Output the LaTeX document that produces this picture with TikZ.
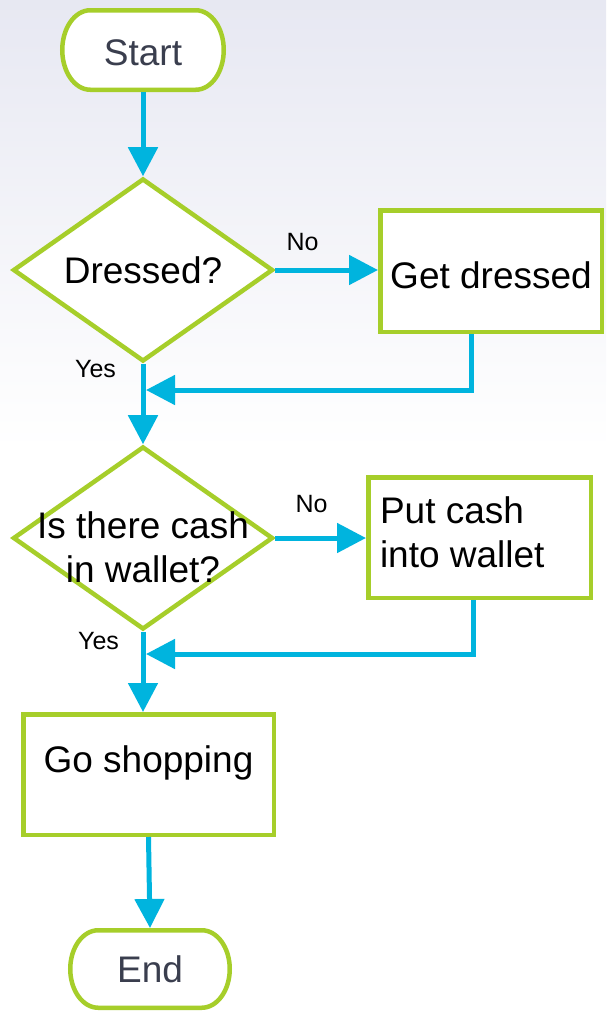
\documentclass[tikz,border=0pt]{standalone}
\usepackage{fontspec}
\setmainfont{Liberation Sans}
\usetikzlibrary{shapes.geometric,arrows.meta}
\definecolor{lgreen}{RGB}{166,206,42}
\definecolor{fblue}{RGB}{0,180,222}
\definecolor{termtext}{RGB}{58,62,78}
\definecolor{bgtop}{RGB}{231,232,242}
\pgfdeclarelayer{bg}
\pgfdeclarelayer{shapes}
\pgfsetlayers{bg,shapes,main}
\tikzset{
  mainfont/.style={font=\fontsize{37pt}{44.4pt}\selectfont},
  term/.style={mainfont, text=termtext, inner sep=0pt, outer sep=0pt},
  termline/.style={draw=lgreen, line width=4.5pt, fill=white},
  box/.style={mainfont, draw=lgreen, line width=4.5pt, fill=white, inner sep=0pt},
  dia/.style={mainfont, diamond, draw=lgreen, line width=4.5pt, fill=white, inner sep=0pt,
    minimum width=260pt, minimum height=183pt},
  arr/.style={draw=fblue, line width=5pt, -{Triangle[length=29pt,width=29pt]}},
  lbl/.style={font=\fontsize{25pt}{30pt}\selectfont, inner sep=0pt}
}
\newcommand\termoutline[3]{%
  \begin{pgfonlayer}{shapes}
    \draw[termline] ([shift={(#2+2.25pt,-2.25pt)}]#1.north west)
      -- ([shift={(-#2-2.25pt,-2.25pt)}]#1.north east)
      arc[start angle=90,end angle=-90,x radius=#2,y radius=#3]
      -- ([shift={(#2+2.25pt,2.25pt)}]#1.south west)
      arc[start angle=270,end angle=90,x radius=#2,y radius=#3] -- cycle;
  \end{pgfonlayer}}
\begin{document}
\begin{tikzpicture}[x=1pt,y=-1pt]
\useasboundingbox (0,0) rectangle (606,1012);
\begin{pgfonlayer}{bg}
  \fill[white] (0,0) rectangle (606,1012);
  \shade[top color=bgtop, bottom color=white] (0,0) rectangle (606,450);
\end{pgfonlayer}

% nodes
\node[term, minimum width=166pt, minimum height=84pt, text height=30pt, text depth=0pt] (start) at (143,50) {Start};
\termoutline{start}{28pt}{39.75pt}

\node[dia] (d1) at (143,270) {\makebox[0pt]{Dressed?}};
\node[box, minimum width=221.5pt, minimum height=121.5pt, text height=34pt, text depth=0pt] (gd) at (491,271) {Get dressed};

\node[dia, text height=0pt, text depth=0pt] (d2) at (143,538)
  {\makebox[0pt]{\begin{tabular}[t]{@{}c@{}}Is there cash\\in wallet?\end{tabular}}};
\node[box, minimum width=222.5pt, minimum height=120.5pt, text height=0pt, text depth=29pt] (pc) at (479.5,537.5)
  {\makebox[199pt][l]{\begin{tabular}[t]{@{}l@{}}Put cash\\into wallet\end{tabular}}};

\node[box, minimum width=250.5pt, minimum height=120.5pt, text height=26pt, text depth=31pt] (gs) at (148.5,774.5) {Go shopping};

\node[term, minimum width=164pt, minimum height=82pt] (end) at (150,969) {End};
\termoutline{end}{28pt}{38.75pt}

% labels
\node[lbl] (no1) at (302.5,242.5) {No};
\node[lbl] (yes1) at (95.5,369) {Yes};
\node[lbl] (no2) at (311.5,504) {No};
\node[lbl] (yes2) at (98.5,641) {Yes};

% merge points
\coordinate (m1) at (146,390);
\coordinate (m2) at (146,654);

% connectors
\draw[arr] (start) -- (d1);
\draw[arr] (d1.east) -- (d1.east -| gd.west);
\draw[arr] ([xshift=-20pt]gd.south) |- (m1);
\draw[arr] (d1) -- (d2);
\draw[arr] (d2.east) -- (d2.east -| pc.west);
\draw[arr] ([xshift=-6.5pt]pc.south) |- (m2);
\draw[arr] (d2.south) -- (d2.south |- gs.north);
\draw[arr] (gs.south) -- (end.north);
\end{tikzpicture}
\end{document}
